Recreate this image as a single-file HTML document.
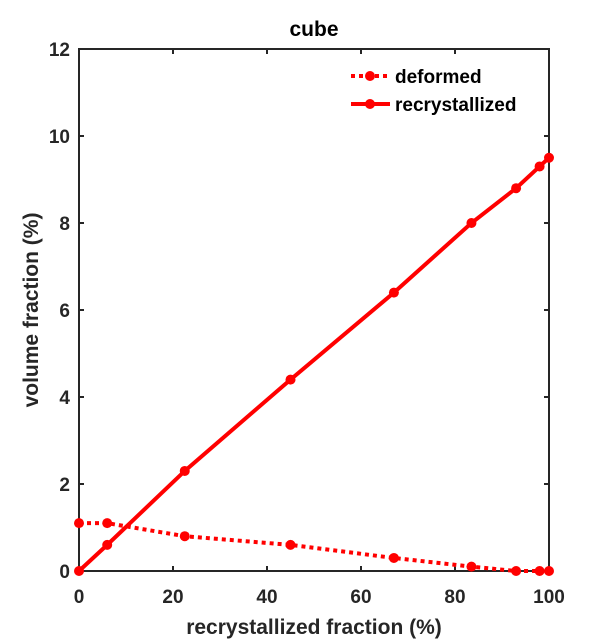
<!DOCTYPE html>
<html><head><meta charset="utf-8"><style>
body{margin:0;background:#fff;}
svg{display:block;font-family:"Liberation Sans",Arial,sans-serif;font-weight:bold;}
</style></head><body>
<svg id="chart" width="607" height="642">
<rect width="607" height="642" fill="#fff"/>
</svg>
<script>
const xTicks=[0,20,40,60,80,100];
const yTicks=[0,2,4,6,8,10,12];
const xVals=[0,6,22.5,45,67,83.5,93,98,100];
const deformed=[1.1,1.1,0.8,0.6,0.3,0.1,0.0,0.0,0.0];
const recrystallized=[0,0.6,2.3,4.4,6.4,8.0,8.8,9.3,9.5];

const L=79,R=549,T=49,B=571;
const sx=v=>L+(v/100)*(R-L);
const sy=v=>B-(v/12)*(B-T);
const svg=document.getElementById('chart');
const NS='http://www.w3.org/2000/svg';
function mk(tag,attrs,parent){const e=document.createElementNS(NS,tag);for(const k in attrs)e.setAttribute(k,attrs[k]);(parent||svg).appendChild(e);return e;}

const axes=mk('g',{});


const box=mk('rect',{x:L,y:T,width:R-L,height:B-T,fill:'none',stroke:'#262626','stroke-width':2},axes);


xTicks.forEach(t=>{
  const x=sx(t);
  mk('line',{x1:x,x2:x,y1:B,y2:B-5,stroke:'#262626','stroke-width':2},axes);
  mk('line',{x1:x,x2:x,y1:T,y2:T+5,stroke:'#262626','stroke-width':2},axes);
  const tx=mk('text',{x:x,y:B+32,'text-anchor':'middle','font-size':19,fill:'#262626'},axes);
  tx.textContent=t;
  
  
});
yTicks.forEach(t=>{
  const y=sy(t);
  mk('line',{x1:L,x2:L+5,y1:y,y2:y,stroke:'#262626','stroke-width':2},axes);
  mk('line',{x1:R,x2:R-5,y1:y,y2:y,stroke:'#262626','stroke-width':2},axes);
  const tx=mk('text',{x:L-9,y:y+7,'text-anchor':'end','font-size':19,fill:'#262626'},axes);
  tx.textContent=t;
  
  
});
const xt=mk('text',{x:(L+R)/2,y:B+63,'text-anchor':'middle','font-size':21,fill:'#262626'});
xt.textContent='recrystallized fraction (%)';


const yt=mk('text',{x:0,y:0,'text-anchor':'middle','font-size':21,fill:'#262626',transform:`translate(38,${(T+B)/2}) rotate(-90)`});
yt.textContent='volume fraction (%)';


const title=mk('text',{x:(L+R)/2,y:36,'text-anchor':'middle','font-size':21,fill:'#000'});
title.textContent='cube';



function series(vals,dash,name){
  const g=mk('g',{});
  
  
  const pts=xVals.map((x,i)=>sx(x)+','+sy(vals[i])).join(' ');
  const pl=mk('polyline',{points:pts,fill:'none',stroke:'#ff0000','stroke-width':4,'stroke-dasharray':dash||'none'},g);
  
  
  xVals.forEach((x,i)=>{
    const c=mk('circle',{cx:sx(x),cy:sy(vals[i]),r:5,fill:'#ff0000'},g);
    
    
  });
}
series(deformed,'4,4','deformed');
series(recrystallized,null,'recrystallized');

const leg=mk('g',{});


[['deformed','4,4',76],['recrystallized','none',104]].forEach(([lab,d,y])=>{
  const e=mk('g',{},leg);
  
  
  mk('line',{x1:351,x2:390,y1:y,y2:y,stroke:'#ff0000','stroke-width':4,'stroke-dasharray':d},e);
  mk('circle',{cx:370,cy:y,r:5,fill:'#ff0000'},e);
  const t=mk('text',{x:395,y:y+7,'font-size':19,fill:'#000'},e);
  t.textContent=lab;
});
</script>
</body></html>
